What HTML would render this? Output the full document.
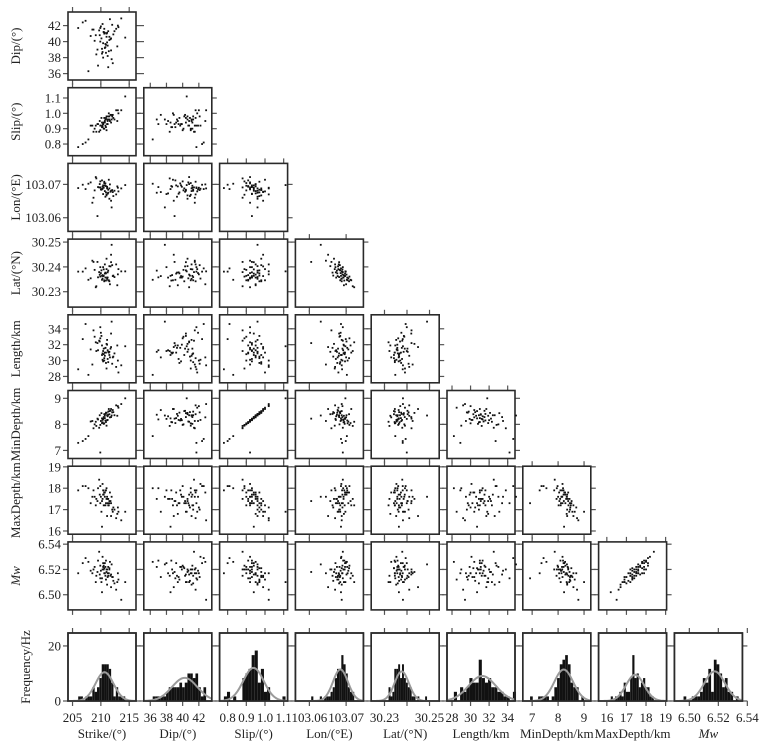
<!DOCTYPE html>
<html><head><meta charset="utf-8">
<style>
html,body{margin:0;padding:0;background:#fff;}
svg{display:block;font-family:"Liberation Serif",serif;}
</style></head>
<body>
<svg id="chart" width="776" height="743" viewBox="0 0 776 743" xmlns="http://www.w3.org/2000/svg"></svg>
<script>
// ---- data (posterior samples) ----
const strike=[210.5,211.2,209.8,212.0,210.9,208.7,211.5,210.2,213.1,209.5,211.0,210.6,207.3,211.8,210.4,212.4,209.9,211.3,206.0,210.8,211.6,210.1,209.2,212.7,211.1,210.7,208.2,211.9,210.3,214.3,210.9,209.7,211.4,212.2,210.0,207.8,211.7,210.5,209.4,213.6,211.2,210.6,208.9,212.9,211.0,206.8,210.2,211.5,209.9,212.1,210.8,211.3,209.1,210.4,213.0,211.8,210.7,208.5,211.1,210.3];
const dip=[41.2,39.5,40.8,42.1,38.6,41.5,40.2,39.1,41.8,37.0,40.6,41.0,42.6,38.9,39.8,41.3,40.0,36.8,41.7,39.3,42.8,40.4,38.4,41.6,39.9,41.1,40.7,37.8,42.2,40.5,39.6,41.4,38.8,40.9,41.9,36.3,40.3,41.2,39.0,42.9,38.2,41.6,40.1,39.4,41.0,42.4,38.5,40.6,41.7,37.3,39.7,41.3,40.8,38.0,42.0,40.4,39.2,41.5,41.1,38.7];
const slip=[0.94,0.93,0.95,0.98,0.91,0.88,0.98,0.91,1.00,0.93,0.98,0.90,0.81,0.99,0.93,0.96,0.89,0.96,0.78,0.96,0.95,0.97,0.88,1.02,0.93,0.95,0.92,0.96,0.92,1.11,0.97,0.88,1.00,0.97,0.92,0.83,0.99,0.90,0.93,1.02,0.95,0.97,0.90,0.95,0.89,0.80,0.94,0.96,0.92,0.99,0.92,0.98,0.92,0.93,1.02,0.94,0.94,0.92,0.96,0.91];
const lon=[103.0690,103.0672,103.0701,103.0683,103.0695,103.0660,103.0688,103.0712,103.0679,103.0692,103.0667,103.0704,103.0686,103.0651,103.0697,103.0681,103.0709,103.0675,103.0689,103.0663,103.0700,103.0684,103.0718,103.0670,103.0693,103.0680,103.0706,103.0631,103.0687,103.0698,103.0676,103.0691,103.0714,103.0665,103.0685,103.0702,103.0678,103.0696,103.0605,103.0688,103.0673,103.0708,103.0682,103.0694,103.0669,103.0699,103.0686,103.0657,103.0691,103.0677,103.0703,103.0684,103.0722,103.0671,103.0690,103.0681,103.0697,103.0645,103.0688,103.0693];
const lat=[30.2390,30.2378,30.2369,30.2407,30.2345,30.2420,30.2342,30.2348,30.2391,30.2358,30.2433,30.2346,30.2394,30.2449,30.2363,30.2359,30.2361,30.2385,30.2381,30.2377,30.2330,30.2386,30.2322,30.2410,30.2357,30.2410,30.2354,30.2489,30.2353,30.2382,30.2374,30.2379,30.2346,30.2365,30.2375,30.2348,30.2402,30.2364,30.2420,30.2382,30.2357,30.2342,30.2388,30.2326,30.2391,30.2381,30.2364,30.2403,30.2399,30.2363,30.2357,30.2346,30.2318,30.2399,30.2370,30.2419,30.2373,30.2425,30.2352,30.2367];
const lengthKm=[31.5,30.2,32.4,29.6,31.0,33.8,30.7,31.9,28.5,31.3,32.1,30.0,34.6,31.7,29.9,30.9,32.8,31.1,28.9,31.6,30.4,33.1,31.2,29.2,32.0,30.6,31.4,34.9,30.1,31.8,29.7,32.5,31.0,30.5,33.5,28.2,31.5,30.8,32.2,29.4,31.3,30.3,33.0,31.9,29.0,32.7,30.7,31.1,34.2,30.4,31.6,29.8,32.3,31.2,30.0,33.4,31.0,29.5,32.6,30.9];
const minDepth=[8.28,8.17,8.35,8.46,8.09,7.85,8.51,8.05,8.64,8.19,8.44,8.04,7.44,8.59,8.21,8.35,7.98,8.37,7.29,8.40,8.27,8.43,7.94,8.73,8.16,8.33,8.11,8.34,8.17,9.00,8.45,7.87,8.59,8.47,8.13,7.55,8.52,8.02,8.22,8.78,8.31,8.39,8.00,8.33,7.95,7.36,8.23,8.39,6.92,8.55,8.15,8.49,8.10,8.21,8.70,8.28,8.24,8.13,8.35,8.08];
const maxDepth=[17.7,17.3,17.7,17.0,17.9,17.9,17.3,17.4,16.9,18.0,17.5,17.8,18.1,16.7,17.7,17.0,18.1,17.5,17.9,17.2,17.8,16.9,17.5,16.6,17.6,17.6,17.3,17.6,18.2,16.9,17.3,18.4,17.2,17.1,17.6,18.0,17.4,17.2,17.4,16.5,17.5,17.8,17.6,16.8,18.0,18.1,16.2,17.4,17.3,16.9,17.9,17.2,17.2,17.9,17.1,17.3,17.8,17.6,16.7,17.5];
const mw=[6.523,6.514,6.516,6.514,6.527,6.520,6.521,6.513,6.512,6.527,6.518,6.517,6.529,6.506,6.522,6.509,6.523,6.522,6.517,6.515,6.526,6.510,6.515,6.504,6.520,6.517,6.519,6.524,6.530,6.510,6.512,6.534,6.517,6.511,6.519,6.526,6.515,6.520,6.518,6.496,6.517,6.521,6.522,6.510,6.520,6.525,6.502,6.520,6.513,6.514,6.522,6.515,6.510,6.525,6.517,6.516,6.525,6.517,6.508,6.520];

const varNames=['Strike/(°)','Dip/(°)','Slip/(°)','Lon/(°E)','Lat/(°N)','Length/km','MinDepth/km','MaxDepth/km','Mw'];
const varKeys=['strike','dip','slip','lon','lat','length','min-depth','max-depth','mw'];
const ticks=[[205,210,215],[36,38,40,42],[0.8,0.9,1.0,1.1],[103.06,103.07],[30.23,30.24,30.25],[28,30,32,34],[7,8,9],[16,17,18,19],[6.50,6.52,6.54]];
const xTickLabels=[['205','210','215'],['36','38','40','42'],['0.8','0.9','1.0','1.1'],['103.06','103.07'],['30.23','','30.25'],['28','30','32','34'],['7','8','9'],['16','17','18','19'],['6.50','6.52','6.54']];
const yTickLabels=[['205','210','215'],['36','38','40','42'],['0.8','0.9','1.0','1.1'],['103.06','103.07'],['30.23','30.24','30.25'],['28','30','32','34'],['7','8','9'],['16','17','18','19'],['6.50','6.52','6.54']];
const histTicks=[0,20];

const series=[strike,dip,slip,lon,lat,lengthKm,minDepth,maxDepth,mw];
const xDom=[[204.2,216.2],[35.2,43.6],[0.757,1.121],[103.0562,103.0747],[30.2241,30.2543],[27.46,34.79],[6.64,9.26],[15.58,19.05],[6.4897,6.5366]];
const yDom=[[204.2,216.2],[35.2,43.7],[0.724,1.167],[103.0559,103.0763],[30.2238,30.2512],[27.2,35.76],[6.69,9.3],[15.85,19.03],[6.488,6.5418]];

const svg=document.getElementById('chart');
const NS='http://www.w3.org/2000/svg';
const FS=13;
function mk(tag,attrs,parent){const e=document.createElementNS(NS,tag);for(const k in attrs)e.setAttribute(k,attrs[k]);(parent||svg).appendChild(e);return e;}
const PX=68,PW=75.8,PY=12,PH=75.7,S=68,HY=633;
function colX(c){return PX+PW*c;}
function rowY(r){return PY+PH*r;}
function xPos(v,c,val){const d=xDom[v];return colX(c)+(val-d[0])/(d[1]-d[0])*S;}
function yPos(v,y0,val){const d=yDom[v];return y0+S-(val-d[0])/(d[1]-d[0])*S;}
const TL=5;
function tickLines(g,x0,y0,xs,ys){
  xs.forEach(x=>{mk('line',{x1:x,x2:x,y1:y0-TL,y2:y0,stroke:'#555','stroke-width':1.2},g);mk('line',{x1:x,x2:x,y1:y0+S,y2:y0+S+TL,stroke:'#555','stroke-width':1.2},g);});
  ys.forEach(y=>{mk('line',{x1:x0-TL,x2:x0,y1:y,y2:y,stroke:'#555','stroke-width':1.2},g);mk('line',{x1:x0+S,x2:x0+S+TL+(x0<100&&y0<20?3:0),y1:y,y2:y,stroke:'#555','stroke-width':1.2},g);});
}
// scatter panels
for(let r=0;r<8;r++){
  const yv=r+1,y0=rowY(r);
  for(let c=0;c<=r;c++){
    const x0=colX(c);
    const g=mk('g',{});
    
    
    tickLines(g,x0,y0,ticks[c].map(t=>xPos(c,c,t)),ticks[yv].map(t=>yPos(yv,y0,t)));
    const box=mk('rect',{x:x0,y:y0,width:S,height:S,fill:'#fff',stroke:'#2a2a2a','stroke-width':1.6},g);
    
    
    const xs=series[c],ys=series[yv];
    for(let i=0;i<xs.length;i++){
      const p=mk('rect',{x:xPos(c,c,xs[i])-0.9,y:yPos(yv,y0,ys[i])-0.9,width:1.8,height:1.8,fill:'#111'},g);
      
      
    }
  }
  // y tick labels
  ticks[yv].forEach((t,k)=>{
    const lab=yTickLabels[yv][k]; if(!lab)return;
    const tx=mk('text',{x:61,y:yPos(yv,y0,t)+4.5,'text-anchor':'end','font-size':FS,fill:'#222'});
    tx.textContent=lab;
    
    
  });
  const ty=y0+S/2;
  const yt=mk('text',{x:0,y:0,transform:`translate(20,${ty}) rotate(-90)`,'text-anchor':'middle','font-size':FS,fill:'#222'});
  yt.textContent=varNames[yv];
  if(yv===8)yt.setAttribute('font-style','italic');
  
  
}
// histograms
const HMAX=24.7,NB=20;
for(let c=0;c<9;c++){
  const x0=colX(c),g=mk('g',{});
  
  
  const hy=v=>HY+S-v/HMAX*S;
  tickLines(g,x0,HY,ticks[c].map(t=>xPos(c,c,t)),histTicks.map(hy));
  mk('rect',{x:x0,y:HY,width:S,height:S,fill:'#fff',stroke:'#2a2a2a','stroke-width':1.6},g);
  const d=series[c],n=d.length;
  const mn=Math.min(...d),mxv=Math.max(...d),bw=(mxv-mn)/NB;
  const counts=new Array(NB).fill(0);
  d.forEach(v=>{let b=Math.floor((v-mn)/bw);if(b>=NB)b=NB-1;counts[b]++;});
  const scale=100/n;
  counts.forEach((ct,b)=>{
    if(!ct)return;
    const xa=xPos(c,c,mn+b*bw),xb=xPos(c,c,mn+(b+1)*bw);
    const br=mk('rect',{x:xa,y:hy(ct*scale),width:Math.max(0.5,xb-xa),height:ct*scale/HMAX*S,fill:'#111'},g);
    
    
  });
  const mean=d.reduce((a,b)=>a+b,0)/n;
  const sd=Math.sqrt(d.reduce((a,b)=>a+(b-mean)**2,0)/(n-1));
  let pts=[];
  for(let k=0;k<=60;k++){
    const v=xDom[c][0]+(xDom[c][1]-xDom[c][0])*k/60;
    const f=100*bw/(sd*Math.sqrt(2*Math.PI))*Math.exp(-0.5*((v-mean)/sd)**2);
    pts.push(xPos(c,c,v).toFixed(2)+','+hy(f).toFixed(2));
  }
  const cv=mk('polyline',{points:pts.join(' '),fill:'none',stroke:'#9a9a9a','stroke-width':2},g);
  
  
  mk('rect',{x:x0,y:HY,width:S,height:S,fill:'none',stroke:'#2a2a2a','stroke-width':1.6},g);
  ticks[c].forEach((t,k)=>{
    const lab=xTickLabels[c][k]; if(!lab)return;
    const tx=mk('text',{x:xPos(c,c,t),y:722,'text-anchor':'middle','font-size':FS,fill:'#222'});
    tx.textContent=lab;
    
    
  });
  const xt=mk('text',{x:x0+S/2,y:738,'text-anchor':'middle','font-size':FS,fill:'#222'});
  xt.textContent=varNames[c];
  if(c===8)xt.setAttribute('font-style','italic');
  
  
}
histTicks.forEach(t=>{
  const tx=mk('text',{x:61,y:HY+S-t/HMAX*S+4.5,'text-anchor':'end','font-size':FS,fill:'#222'});
  tx.textContent=String(t);
  
  
});
const ft=mk('text',{x:0,y:0,transform:`translate(30,${HY+S/2}) rotate(-90)`,'text-anchor':'middle','font-size':FS,fill:'#222'});
ft.textContent='Frequency/Hz';


</script>
</body></html>
